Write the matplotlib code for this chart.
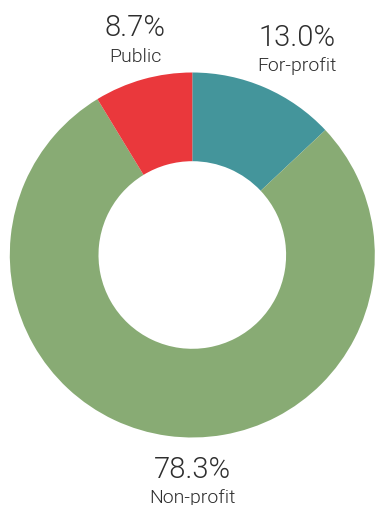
import matplotlib.pyplot as plt
from matplotlib import font_manager as fm

# share of institutions by ownership type
sectors = ["For-profit", "Non-profit", "Public"]
shares = [13.0, 78.3, 8.7]
colors = ["#44959B", "#88AB74", "#EA383C"]

# use the static Roboto Light file rather than the variable font
light_path = next(f.fname for f in fm.fontManager.ttflist
                  if f.fname.endswith("Roboto-Light.ttf"))

W, H = 375, 506
fig = plt.figure(figsize=(W / 100, H / 100), dpi=100)

# donut centred at (192, 256) px from the top, outer radius ~182 px
cx, cy, r = 192.3, 256.0, 182.5
ax = fig.add_axes([(cx - r) / W, (H - cy - r) / H, 2 * r / W, 2 * r / H])
ax.pie(shares, colors=colors, startangle=90, counterclock=False,
       radius=1.0, wedgeprops=dict(width=0.486, linewidth=0))
ax.set_xlim(-1, 1)
ax.set_ylim(-1, 1)
ax.set_aspect("equal")
ax.axis("off")

# label anchors: (centre x, baseline of percentage, baseline of name) in px
label_pos = {
    "For-profit": (297, 46, 71),
    "Public": (135, 36, 62),
    "Non-profit": (192.5, 478, 503),
}

for name, val in zip(sectors, shares):
    x, y_pct, y_name = label_pos[name]
    fig.text(x / W, 1 - y_pct / H, f"{val:.1f}%", color="#2e2e2e",
             ha="center", va="baseline",
             fontproperties=fm.FontProperties(fname=light_path, size=21))
    fig.text(x / W, 1 - y_name / H, name, color="#2e2e2e",
             ha="center", va="baseline",
             fontproperties=fm.FontProperties(fname=light_path, size=14))

fig.savefig("out.png", dpi=100)
